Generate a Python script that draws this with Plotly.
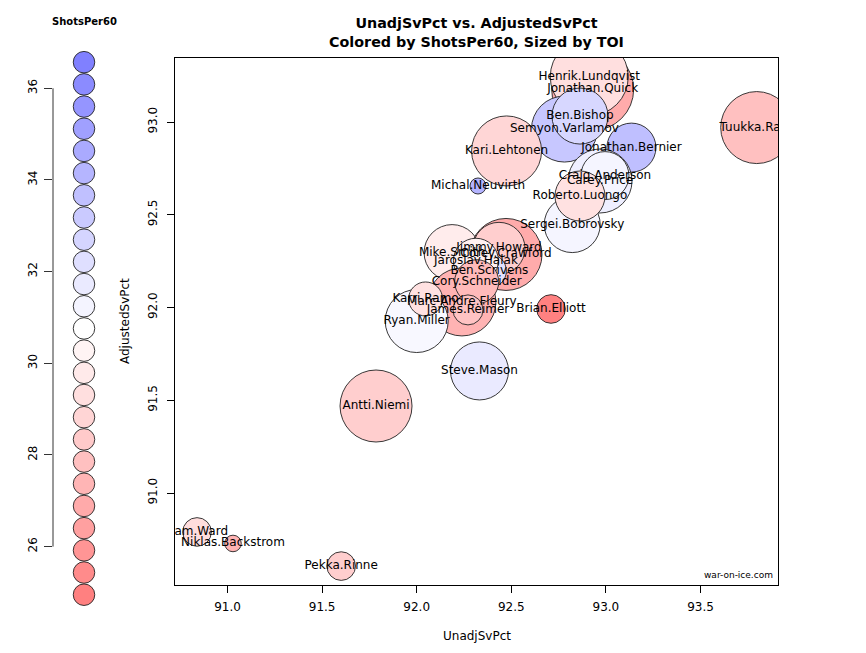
import numpy as np
import plotly.graph_objects as go

# ---- data (listed in drawing order) ----
goalies = [
    "Tuukka.Rask", "Jonathan.Quick", "Henrik.Lundqvist", "Semyon.Varlamov",
    "Kari.Lehtonen", "Ben.Bishop", "Jonathan.Bernier", "Carey.Price",
    "Craig.Anderson", "Sergei.Bobrovsky", "Roberto.Luongo", "Michal.Neuvirth",
    "Antti.Niemi", "Mike.Smith", "Corey.Crawford", "Jimmy.Howard",
    "Ben.Scrivens", "Jaroslav.Halak", "Marc-Andre.Fleury", "Cory.Schneider",
    "James.Reimer", "Ryan.Miller", "Karri.Ramo", "Steve.Mason",
    "Brian.Elliott", "Cam.Ward", "Niklas.Backstrom", "Pekka.Rinne",
]
unadj_sv = [
    93.797, 92.930, 92.912, 92.781,
    92.475, 92.863, 93.135, 92.969,
    92.995, 92.822, 92.863, 92.324,
    91.785, 92.187, 92.472, 92.435,
    92.384, 92.313, 92.239, 92.317,
    92.271, 92.000, 92.047, 92.332,
    92.710, 90.839, 91.029, 91.601,
]
adjusted_sv = [
    92.970, 93.176, 93.244, 92.962,
    92.844, 93.032, 92.862, 92.682,
    92.711, 92.447, 92.601, 92.655,
    91.469, 92.296, 92.286, 92.319,
    92.197, 92.252, 92.030, 92.139,
    91.987, 91.927, 92.046, 91.658,
    91.992, 90.790, 90.728, 90.606,
]
shots_per60 = [
    27.9, 26.9, 29.3, 33.3,
    28.9, 32.6, 33.7, 31.5,
    31.2, 31.2, 29.4, 34.2,
    28.5, 29.9, 26.9, 28.5,
    32.1, 30.1, 27.3, 27.6,
    28.0, 31.1, 29.4, 31.7,
    25.0, 29.2, 27.3, 28.5,
]
toi = [
    2304, 2989, 2704, 1936,
    2178, 1394, 1067, 1821,
    1024, 1394, 1111, 114,
    2304, 1394, 2304, 1202,
    514, 900, 2055, 861,
    400, 1764, 514, 1495,
    364, 364, 122, 364,
]

COLOR_MIN = 24.95
COLOR_MAX = 36.57
N_KEY = 25
key_values = np.linspace(COLOR_MIN, COLOR_MAX, N_KEY)

x_ticks = [91.0, 91.5, 92.0, 92.5, 93.0, 93.5]
y_ticks = [91.0, 91.5, 92.0, 92.5, 93.0]
key_ticks = [26, 28, 30, 32, 34, 36]

colorscale = [[0.0, "#FF8080"], [0.5, "#FFFFFF"], [1.0, "#8080FF"]]
FONT = "DejaVu Sans"
W, H = 866, 653
PAD = 8                      # page body margin of the browser
FW, FH = W - 2 * PAD, H - 2 * PAD

fig = go.Figure()

# main bubbles
fig.add_trace(go.Scatter(
    x=unadj_sv, y=adjusted_sv, text=goalies,
    mode="markers+text", textposition="middle center",
    textfont=dict(family=FONT, size=12, color="black"),
    marker=dict(
        size=toi, sizemode="area", sizeref=2 / 2.25,
        color=shots_per60, colorscale=colorscale,
        cmin=COLOR_MIN, cmax=COLOR_MAX, showscale=False,
        opacity=1, line=dict(color="#222222", width=0.9),
    ),
    cliponaxis=True, hoverinfo="text", showlegend=False,
    xaxis="x", yaxis="y",
))

# colour key
fig.add_trace(go.Scatter(
    x=[0] * N_KEY, y=key_values, mode="markers",
    marker=dict(
        size=21.5, color=key_values, colorscale=colorscale,
        cmin=COLOR_MIN, cmax=COLOR_MAX, showscale=False,
        line=dict(color="#222222", width=0.9),
    ),
    cliponaxis=False, hoverinfo="skip", showlegend=False,
    xaxis="x2", yaxis="y2",
))


def px_x(p):
    return (p - PAD) / FW


def px_y(p):
    return 1 - (p - PAD) / FH


# main axes mapping (91.0 at 227.5 px, 189.2 px/unit; 93.0 at 122 px, 185.5 px/unit)
x_left = 91 + (175 - 227.5) / 189.2
x_right = 91 + (778 - 227.5) / 189.2
y_bottom = 91 - (585 - 493) / 185.5
y_top = 93 + (122 - 58) / 185.5

axis_common = dict(
    showgrid=False, zeroline=False, showline=True, mirror=True,
    linecolor="black", linewidth=1, ticks="outside", ticklen=7,
    tickcolor="black", tickwidth=1,
    tickfont=dict(family=FONT, size=12, color="black"),
)

# key axis mapping (36 at 88.3 px, 45.83 px/unit), domain covers whole figure
k_top = 36 + (88.3 - PAD) / 45.83
k_bottom = 36 - (H - PAD - 88.3) / 45.83

fig.update_layout(
    width=FW, height=FH,
    margin=dict(l=0, r=0, t=0, b=0),
    paper_bgcolor="white", plot_bgcolor="white",
    font=dict(family=FONT, color="black"),
    xaxis=dict(domain=[px_x(175), px_x(778)], range=[x_left, x_right],
               tickvals=x_ticks, tickformat=".1f", anchor="y",
               ticklabelstandoff=4, **axis_common),
    yaxis=dict(domain=[px_y(585), px_y(58)], range=[y_bottom, y_top],
               tickvals=y_ticks, tickformat=".1f", tickangle=-90,
               ticklabelstandoff=5, anchor="x", **axis_common),
    xaxis2=dict(domain=[px_x(53), px_x(115)], range=[-1, 1], visible=False,
                anchor="y2"),
    yaxis2=dict(domain=[0, 1], range=[k_bottom, k_top], anchor="x2",
                showgrid=False, zeroline=False, showline=False,
                ticks="outside", ticklen=8, tickcolor="#333333",
                tickvals=key_ticks, tickangle=-90, ticklabelstandoff=2,
                tickfont=dict(family=FONT, size=12, color="black")),
    title=dict(
        text="<b>UnadjSvPct vs. AdjustedSvPct</b><br><b>Colored by ShotsPer60, Sized by TOI</b>",
        x=px_x(476.5), xanchor="center", y=px_y(28), yanchor="middle",
        font=dict(family=FONT, size=14.3, color="black"),
    ),
    shapes=[dict(type="line", xref="x2 domain", yref="y2", x0=0, x1=0,
                 y0=key_ticks[0], y1=key_ticks[-1],
                 line=dict(color="#333333", width=1))],
    annotations=[
        dict(text="UnadjSvPct", xref="paper", yref="paper",
             x=px_x(476.5), y=px_y(636), showarrow=False,
             xanchor="center", yanchor="middle",
             font=dict(family=FONT, size=12, color="black")),
        dict(text="AdjustedSvPct", xref="paper", yref="paper",
             x=px_x(125), y=px_y(321), showarrow=False, textangle=-90,
             xanchor="center", yanchor="middle",
             font=dict(family=FONT, size=12, color="black")),
        dict(text="<b>ShotsPer60</b>", xref="paper", yref="paper",
             x=px_x(84), y=px_y(21), showarrow=False,
             xanchor="center", yanchor="middle",
             font=dict(family=FONT, size=10, color="black")),
        dict(text="war-on-ice.com", xref="paper", yref="paper",
             x=px_x(775), y=px_y(575), showarrow=False,
             xanchor="right", yanchor="middle",
             font=dict(family=FONT, size=9, color="black")),
    ],
)

fig.write_html("out.html")
